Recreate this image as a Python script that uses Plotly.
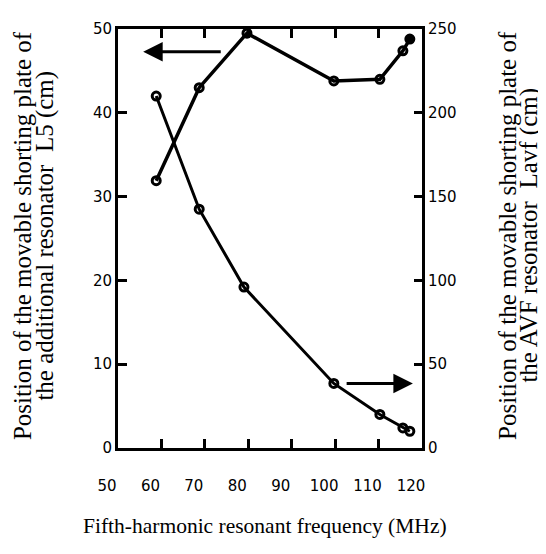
import plotly.graph_objects as go

# ---- data ----
freq_L5 = [58.8, 68.7, 79.7, 99.7, 110.3, 115.6, 117.2]      # MHz
L5_cm = [31.9, 43.0, 49.5, 43.8, 44.0, 47.4, 48.8]            # left axis
freq_Lavf = [58.8, 68.7, 79.0, 99.7, 110.3, 115.6, 117.2]     # MHz
Lavf_cm = [210, 142.5, 96, 38.5, 20, 12, 10]                  # right axis

x_ticks = [50, 60, 70, 80, 90, 100, 110, 120]
y_left_ticks = [0, 10, 20, 30, 40, 50]
y_right_ticks = [0, 50, 100, 150, 200, 250]

left_title = ["Position of the movable shorting plate of",
              "the additional resonator  L5 (cm)"]
right_title = ["Position of the movable shorting plate of",
               "the AVF resonator  Lavf (cm)"]
x_title = "Fifth-harmonic resonant frequency (MHz)"

# ---- figure ----
# (the page body has an 8px margin, so the figure is 8px smaller and its
#  left/top margins are reduced by 8px to land the plot where the reference has it)
l5_symbols = ["circle-open"] * (len(L5_cm) - 1) + ["circle"]

fig = go.Figure()
fig.add_trace(go.Scatter(
    x=freq_L5, y=L5_cm, mode="lines+markers", yaxis="y",
    line=dict(color="black", width=3.5),
    marker=dict(symbol=l5_symbols, size=8, color="black",
                line=dict(color="black", width=3)),
    showlegend=False, name="L5"))
fig.add_trace(go.Scatter(
    x=freq_Lavf, y=Lavf_cm, mode="lines+markers", yaxis="y2",
    line=dict(color="black", width=3),
    marker=dict(symbol="circle-open", size=8, color="black",
                line=dict(color="black", width=3)),
    showlegend=False, name="Lavf"))

tick_font = dict(family="DejaVu Sans", size=15, color="black")
title_font = dict(family="Liberation Serif", size=25, color="black")

annotations = []
for txt, px in zip(left_title, [-0.314, -0.240]):
    annotations.append(dict(text=txt, xref="paper", yref="paper", x=px, y=0.507,
                            textangle=-90, showarrow=False, font=title_font,
                            xanchor="center", yanchor="middle"))
for txt, px in zip(right_title, [1.281, 1.352]):
    annotations.append(dict(text=txt, xref="paper", yref="paper", x=px, y=0.507,
                            textangle=-90, showarrow=False, font=title_font,
                            xanchor="center", yanchor="middle"))
annotations.append(dict(text=x_title, xref="paper", yref="paper", x=0.484, y=-0.187,
                        showarrow=False, xanchor="center", yanchor="middle",
                        font=dict(family="Liberation Serif", size=21.5, color="black")))
# arrows showing which axis each curve uses
annotations.append(dict(text="", x=55.8, y=47.3, xref="x", yref="y",
                        ax=74.0, ay=47.3, axref="x", ayref="y",
                        showarrow=True, arrowhead=2, arrowsize=1.3, arrowwidth=3,
                        arrowcolor="black"))
annotations.append(dict(text="", x=117.9, y=38.5, xref="x", yref="y2",
                        ax=102.3, ay=38.5, axref="x", ayref="y2",
                        showarrow=True, arrowhead=2, arrowsize=1.3, arrowwidth=3,
                        arrowcolor="black"))

fig.update_layout(
    width=538, height=546,
    margin=dict(l=110, r=124, t=12, b=106),
    paper_bgcolor="white", plot_bgcolor="white",
    xaxis=dict(range=[50, 120], tickvals=x_ticks, ticktext=[str(v) for v in x_ticks],
               showline=True, linecolor="black", linewidth=3, mirror="ticks",
               ticks="inside", ticklen=9, tickwidth=2.5, tickcolor="black",
               showgrid=False, zeroline=False, tickfont=tick_font,
               ticklabelstandoff=22, ticklabelshift=-11),
    yaxis=dict(range=[0, 50], tickvals=y_left_ticks,
               showline=True, linecolor="black", linewidth=3,
               ticks="inside", ticklen=9, tickwidth=2.5, tickcolor="black",
               showgrid=False, zeroline=False, tickfont=tick_font),
    yaxis2=dict(range=[0, 250], tickvals=y_right_ticks, overlaying="y", side="right",
                showline=True, linecolor="black", linewidth=3,
                ticks="inside", ticklen=8, tickwidth=2.5, tickcolor="black",
                showgrid=False, zeroline=False, tickfont=tick_font),
    annotations=annotations,
)

fig.write_html("out.html")
